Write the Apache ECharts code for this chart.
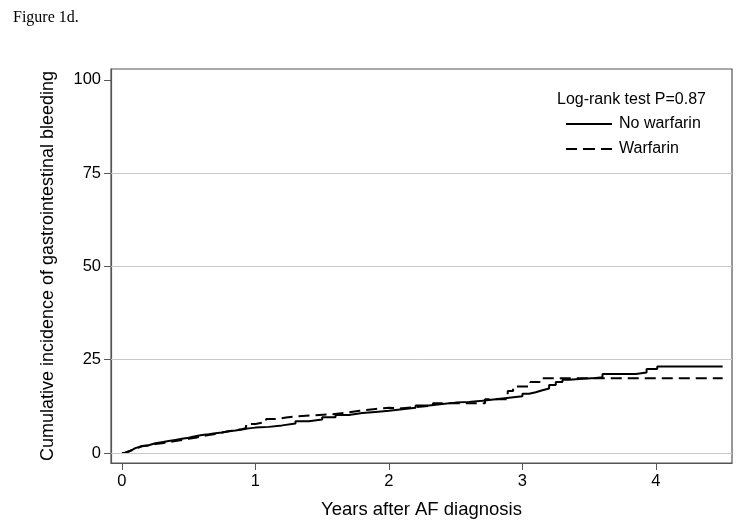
<!DOCTYPE html>
<html>
<head>
<meta charset="utf-8">
<script src="https://cdn.jsdelivr.net/npm/echarts@6/dist/echarts.min.js"></script>
<style>html,body{margin:0;padding:0;background:#fff}#c{width:741px;height:525px}</style>
</head>
<body>
<div id="c"></div>
<script>
const xTicks = [0, 1, 2, 3, 4];
const yTicks = [0, 25, 50, 75, 100];
const seriesNames = ['No warfarin', 'Warfarin'];
const noWarfarinT = [0,0.02,0.05,0.08,0.1,0.13,0.15,0.2,0.25,0.3,0.35,0.4,0.45,0.5,0.55,0.6,0.65,0.7,0.75,0.8,0.85,0.9,0.95,1.0,1.1,1.2,1.3,1.4,1.5,1.6,1.7,1.8,1.9,2.0,2.1,2.2,2.3,2.4,2.5,2.6,2.7,2.8,2.9,3.0,3.05,3.1,3.15,3.2,3.25,3.3,3.35,3.45,3.55,3.6,3.85,3.93,4.01,4.50];
const noWarfarinV = [0,0.4,0.9,1.3,1.6,1.9,2.1,2.6,2.9,3.2,3.5,3.8,4.1,4.5,4.8,5.0,5.3,5.5,5.8,6.0,6.3,6.6,6.8,7.0,7.4,7.9,8.5,9.0,9.6,10.2,10.7,11.0,11.3,11.7,12.1,12.7,13.1,13.5,13.7,14.0,14.4,14.8,15.2,15.9,16.3,16.8,17.3,18.2,19.0,19.6,19.9,20.1,20.3,21.2,21.6,22.5,23.2,23.2];
const warfarinT = [0,0.02,0.05,0.08,0.1,0.13,0.15,0.2,0.25,0.3,0.35,0.4,0.45,0.5,0.55,0.6,0.65,0.7,0.75,0.8,0.85,0.9,0.93,1.0,1.08,1.15,1.23,1.3,1.43,1.58,1.7,1.78,1.9,2.0,2.1,2.2,2.33,2.72,2.89,2.93,3.06,3.13,4.50];
const warfarinV = [0,0.4,0.8,1.2,1.5,1.8,2.0,2.4,2.6,2.9,3.2,3.5,3.8,4.1,4.5,4.8,5.1,5.5,5.8,6.1,6.4,6.7,7.8,8.3,9.1,9.5,9.8,10.1,10.4,10.9,11.3,11.8,12.1,12.0,12.3,12.7,13.3,14.4,16.6,17.8,19.0,20.0,20.0];
const gridValues = [0, 25, 50, 75];

const toPairs = (t, v) => t.map((x, i) => [x, v[i]]);
const font = '"Liberation Sans", Arial, sans-serif';
const solidIcon = 'path://M0,0M46,14M0,6L46,6L46,8L0,8Z';
const dashIcon = 'path://M0,0M46,14M0,6L11,6L11,8L0,8ZM17,6L29,6L29,8L17,8ZM35,6L46,6L46,8L35,8Z';
const chart = echarts.init(document.getElementById('c'), null, {renderer: 'canvas'});
chart.setOption({
  animation: false,
  backgroundColor: '#fff',
  title: [
    {text: 'Figure 1d.', left: 8, top: 5, textStyle: {fontFamily: '"Liberation Serif", "Times New Roman", serif', fontSize: 16, fontWeight: 'normal', color: '#000'}},
    {text: 'Log-rank test P=0.87', left: 552, top: 87, textStyle: {fontFamily: font, fontSize: 16, fontWeight: 'normal', color: '#000'}}
  ],
  legend: {
    orient: 'vertical', left: 561, top: 111, itemGap: 9, itemWidth: 46, itemHeight: 14,
    data: [{name: seriesNames[0], icon: solidIcon}, {name: seriesNames[1], icon: dashIcon}],
    itemStyle: {color: '#000', borderWidth: 0},
    textStyle: {fontFamily: font, fontSize: 16, color: '#000', padding: [0, 0, 0, 2]}
  },
  grid: {left: 111, right: 9, top: 69, bottom: 62, show: true, borderColor: '#555', borderWidth: 1.2, containLabel: false},
  xAxis: {
    type: 'value', min: -0.082, max: 4.57,
    name: 'Years after AF diagnosis', nameLocation: 'middle', nameGap: 37,
    nameTextStyle: {fontFamily: font, fontSize: 18.5, color: '#000'},
    axisLine: {show: true, onZero: false, lineStyle: {color: '#555', width: 1.2}},
    axisTick: {show: true, customValues: xTicks, length: 7, lineStyle: {color: '#555'}},
    axisLabel: {customValues: xTicks, fontFamily: font, fontSize: 16.5, color: '#000', margin: 10},
    splitLine: {show: false}
  },
  yAxis: {
    type: 'value', min: -2.68, max: 102.9,
    name: 'Cumulative incidence of gastrointestinal bleeding', nameLocation: 'middle', nameGap: 54, nameRotate: 90,
    nameTextStyle: {fontFamily: font, fontSize: 18, color: '#000'},
    axisLine: {show: true, onZero: false, lineStyle: {color: '#555', width: 1.2}},
    axisTick: {show: true, customValues: yTicks, length: 7, lineStyle: {color: '#555'}},
    axisLabel: {customValues: yTicks, fontFamily: font, fontSize: 16.5, color: '#000', margin: 10},
    splitLine: {show: false}
  },
  series: [
    {
      name: seriesNames[0], type: 'line', step: 'end', showSymbol: false, symbol: 'none',
      data: toPairs(noWarfarinT, noWarfarinV),
      lineStyle: {color: '#000', width: 2, type: 'solid'}, itemStyle: {color: '#000'},
      markLine: {silent: true, symbol: 'none', label: {show: false},
        lineStyle: {color: '#c8c8c8', width: 1, type: 'solid'},
        data: gridValues.map(v => ({yAxis: v}))},
      z: 3
    },
    {
      name: seriesNames[1], type: 'line', step: 'end', showSymbol: false, symbol: 'none',
      data: toPairs(warfarinT, warfarinV),
      lineStyle: {color: '#000', width: 2, type: [11, 6]}, itemStyle: {color: '#000'},
      z: 3
    }
  ]
});
</script>
</body>
</html>
